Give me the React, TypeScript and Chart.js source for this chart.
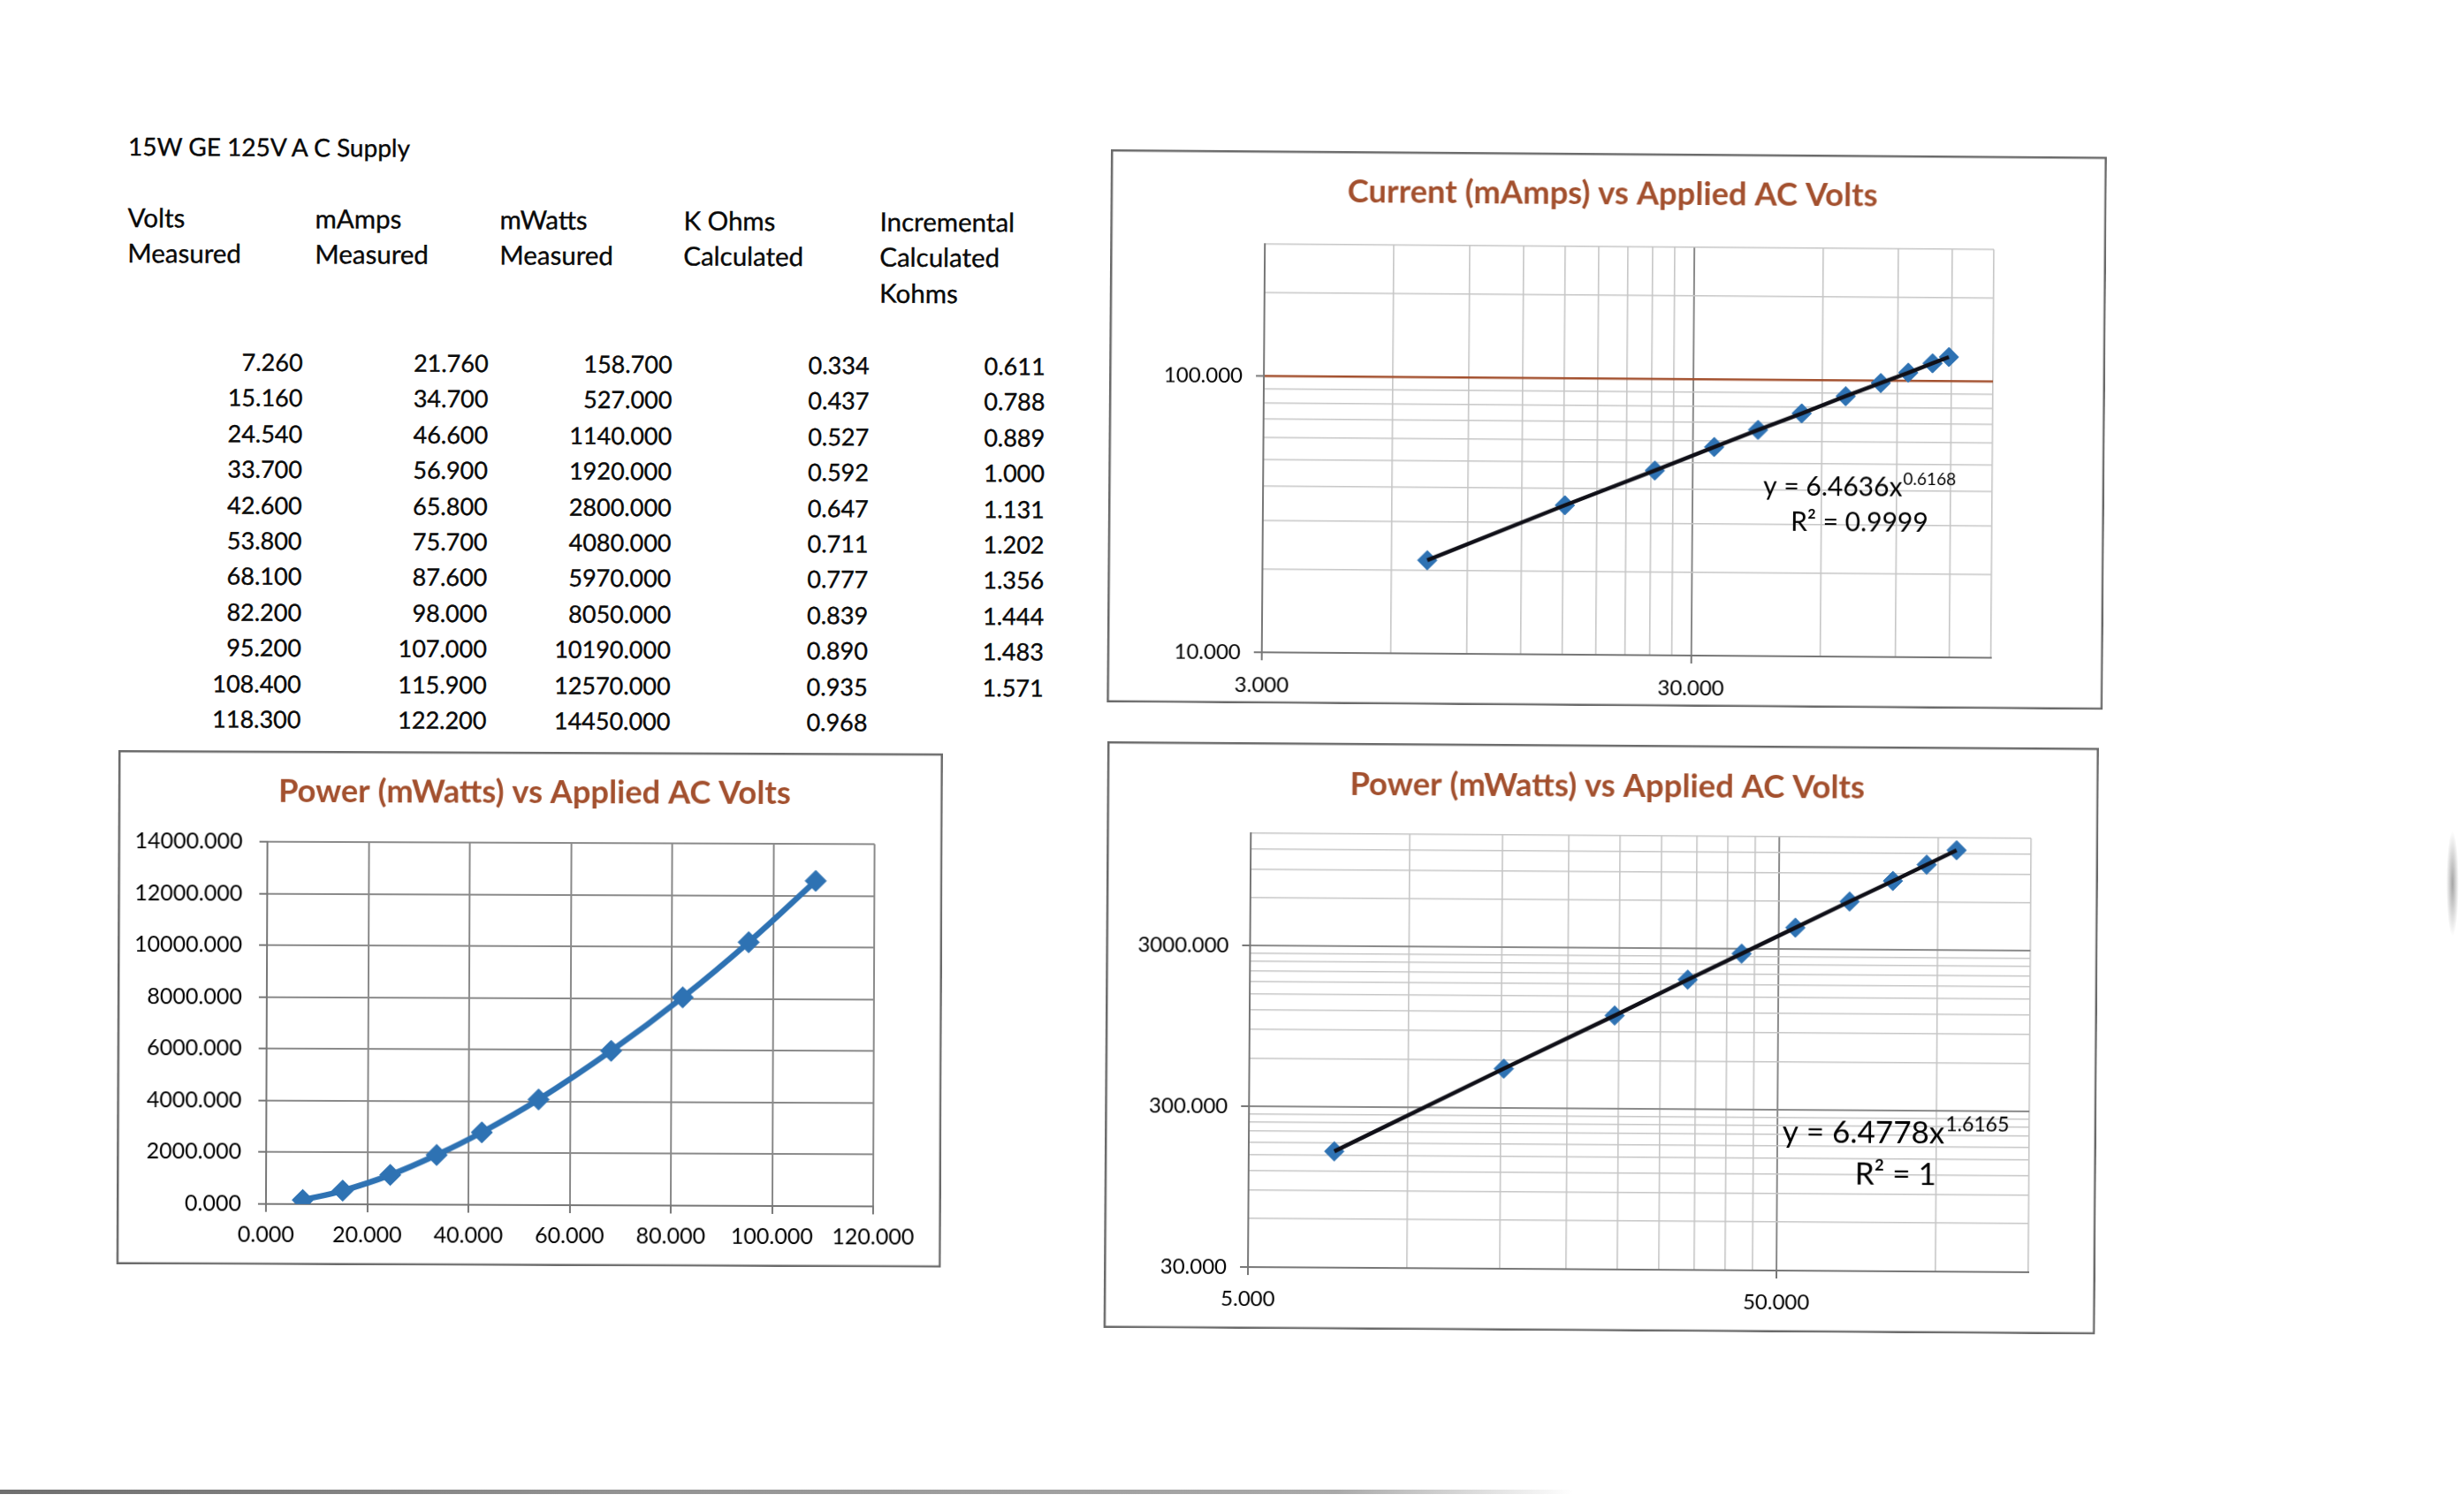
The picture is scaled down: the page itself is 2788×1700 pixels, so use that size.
import React, { useEffect, useRef } from 'react';
import { Chart, registerables } from 'chart.js';

Chart.register(...registerables);

const FONT = 'Lato, "Open Sans", "DejaVu Sans", sans-serif';

// ---------- data (read from the scanned sheet) ----------
const sheetTitle = '15W GE 125V A C Supply';
const tableHeaders = [
  ['Volts', 'Measured'],
  ['mAmps', 'Measured'],
  ['mWatts', 'Measured'],
  ['K Ohms', 'Calculated'],
  ['Incremental', 'Calculated', 'Kohms'],
];
const volts = [7.26, 15.16, 24.54, 33.7, 42.6, 53.8, 68.1, 82.2, 95.2, 108.4, 118.3];
const mAmps = [21.76, 34.7, 46.6, 56.9, 65.8, 75.7, 87.6, 98.0, 107.0, 115.9, 122.2];
const mWatts = [158.7, 527, 1140, 1920, 2800, 4080, 5970, 8050, 10190, 12570, 14450];
const kOhms = [0.334, 0.437, 0.527, 0.592, 0.647, 0.711, 0.777, 0.839, 0.89, 0.935, 0.968];
const incrementalKohms = [0.611, 0.788, 0.889, 1.0, 1.131, 1.202, 1.356, 1.444, 1.483, 1.571];

// the two power charts plot the first ten readings only
const powerVolts = volts.slice(0, 10);
const powerWatts = mWatts.slice(0, 10);

const currentTitle = 'Current (mAmps) vs Applied AC Volts';
const powerTitle = 'Power (mWatts) vs Applied AC Volts';
const currentFitText = ['y = 6.4636x', '0.6168', 'R² = 0.9999'];
const powerFitText = ['y = 6.4778x', '1.6165', 'R² = 1'];

// axis gridline / tick values
const currentXGrid = [3, 6, 9, 12, 15, 18, 21, 24, 27, 30, 60, 90, 120, 150];
const currentXMajor = [3, 30];
const currentYGrid = [10, 20, 30, 40, 50, 60, 70, 80, 90, 100, 200, 300];
const currentYMajor = [10, 100];
const powerLinX = [0, 120, 20];
const powerLinY = [0, 14000, 2000];
const powerLogXGrid = [5, 10, 15, 20, 25, 30, 35, 40, 45, 50, 100, 150];
const powerLogXMajor = [5, 50];
const powerLogYGrid = [30, 60, 90, 120, 150, 180, 210, 240, 270, 300, 600, 900, 1200, 1500, 1800, 2100, 2400, 2700, 3000, 6000, 9000, 12000, 15000];
const powerLogYMajor = [30, 300, 3000];

// ---------- styles ----------
const BLUE = '#2E72B3';
const BROWN = '#A3502E';
const MINOR = '#c6c6c6';
const MAJOR = '#8a8a8a';
const AXIS = '#777777';
const FRAME = '#6a6a6a';
const MARKER_R = 11;

type AxisSpec = {
  type: 'linear' | 'logarithmic';
  min: number;
  max: number;
  step?: number;
  grid?: number[];
  majors?: number[];
  isY: boolean;
  size: number;
  fontSize: number;
  pad: number;
  special?: (v: number) => string | null;
};

function makeAxis(p: AxisSpec) {
  const isMajor = (v: number) => !p.majors || p.majors.includes(v);
  const axis: any = {
    type: p.type,
    min: p.min,
    max: p.max,
    position: p.isY ? 'left' : 'bottom',
    afterFit: (s: any) => {
      if (p.isY) s.width = p.size;
      else s.height = p.size;
    },
    ticks: {
      autoSkip: false,
      maxRotation: 0,
      minRotation: 0,
      padding: p.pad,
      color: '#000',
      font: { family: FONT, size: p.fontSize },
      callback: (v: any) => (isMajor(Number(v)) ? Number(v).toFixed(3) : ''),
    },
    grid: {
      color: (c: any) => {
        const v = c.tick ? c.tick.value : NaN;
        const s = p.special ? p.special(v) : null;
        if (s) return s;
        return isMajor(v) ? MAJOR : MINOR;
      },
      lineWidth: (c: any) => {
        const v = c.tick ? c.tick.value : NaN;
        if (p.special && p.special(v)) return 2.5;
        return isMajor(v) ? 2 : 1.6;
      },
      tickColor: (c: any) => (c.tick && isMajor(c.tick.value) ? AXIS : 'rgba(0,0,0,0)'),
      tickLength: 9,
      tickWidth: 2,
      drawTicks: true,
    },
    border: { display: true, color: AXIS, width: 2 },
  };
  if (p.step) axis.ticks.stepSize = p.step;
  if (p.grid) {
    const g = p.grid;
    axis.afterBuildTicks = (s: any) => {
      s.ticks = g.map((v) => ({ value: v }));
    };
  }
  return axis;
}

type DecorSpec = {
  title: string;
  titleCx: number;
  titleCy: number;
  titleWidth: number;
  fit?: string[];
  fitCx?: number;
  fitY1?: number;
  fitY2?: number;
  fitSize?: number;
  supSize?: number;
};

function decorPlugin(d: DecorSpec) {
  return {
    id: 'decor',
    beforeDraw(chart: any) {
      const ctx = chart.ctx;
      ctx.save();
      ctx.fillStyle = '#ffffff';
      ctx.fillRect(0, 0, chart.width, chart.height);
      ctx.restore();
    },
    afterDraw(chart: any) {
      const ctx = chart.ctx;
      ctx.save();
      // title, sized to the width it has on the sheet
      ctx.font = `bold 100px ${FONT}`;
      const w100 = ctx.measureText(d.title).width;
      const size = (100 * d.titleWidth) / w100;
      ctx.font = `bold ${size}px ${FONT}`;
      ctx.fillStyle = BROWN;
      ctx.textAlign = 'center';
      ctx.textBaseline = 'middle';
      ctx.fillText(d.title, d.titleCx, d.titleCy);

      if (d.fit && d.fitSize && d.supSize) {
        const baseFont = `${d.fitSize}px ${FONT}`;
        const supFont = `${d.supSize}px ${FONT}`;
        ctx.fillStyle = '#000';
        ctx.font = baseFont;
        const wb = ctx.measureText(d.fit[0]).width;
        ctx.font = supFont;
        const ws = ctx.measureText(d.fit[1]).width;
        const x0 = (d.fitCx as number) - (wb + ws + 1) / 2;
        ctx.textAlign = 'left';
        ctx.font = baseFont;
        ctx.fillText(d.fit[0], x0, d.fitY1 as number);
        ctx.font = supFont;
        ctx.fillText(d.fit[1], x0 + wb + 1, (d.fitY1 as number) - d.fitSize * 0.3);
        ctx.font = baseFont;
        ctx.textAlign = 'center';
        ctx.fillText(d.fit[2], d.fitCx as number, d.fitY2 as number);
      }

      // chart frame
      ctx.strokeStyle = FRAME;
      ctx.lineWidth = 2.5;
      ctx.strokeRect(1.25, 1.25, chart.width - 2.5, chart.height - 2.5);
      ctx.restore();
    },
  };
}

const baseOptions = (w: number, t: number, r: number) => ({
  responsive: false,
  maintainAspectRatio: false,
  animation: false,
  events: [],
  layout: { padding: { left: 0, top: t, right: w - r, bottom: 0 } },
  plugins: {
    legend: { display: false },
    tooltip: { enabled: false },
    title: { display: false },
  },
});

function currentConfig(): any {
  const w = 1127, h = 626, l = 175, t = 106, r = 1000, b = 568;
  const pts = volts.map((v, i) => ({ x: v, y: mAmps[i] }));
  return {
    type: 'scatter',
    data: {
      datasets: [
        { data: pts, showLine: true, borderColor: '#101018', borderWidth: 4.5, pointRadius: 0, tension: 0, order: 0 },
        { data: pts, showLine: false, pointStyle: 'rectRot', pointRadius: MARKER_R, pointBackgroundColor: BLUE, pointBorderColor: BLUE, pointBorderWidth: 1, order: 1 },
      ],
    },
    options: {
      ...baseOptions(w, t, r),
      scales: {
        x: makeAxis({ type: 'logarithmic', min: 3, max: 150, grid: currentXGrid, majors: currentXMajor, isY: false, size: h - b, fontSize: 24, pad: 13.6 }),
        y: makeAxis({ type: 'logarithmic', min: 10, max: 300, grid: currentYGrid, majors: currentYMajor, isY: true, size: l, fontSize: 24, pad: 15, special: (v) => (v === 100 ? BROWN : null) }),
      },
    },
    plugins: [
      decorPlugin({ title: currentTitle, titleCx: 568, titleCy: 46, titleWidth: 600, fit: currentFitText, fitCx: 850, fitY1: 376, fitY2: 416, fitSize: 30, supSize: 19 }),
    ],
  };
}

function powerLinearConfig(): any {
  const w = 933, h = 582, l = 169, t = 103, r = 856, b = 513;
  const pts = powerVolts.map((v, i) => ({ x: v, y: powerWatts[i] }));
  return {
    type: 'scatter',
    data: {
      datasets: [
        { data: pts, showLine: true, borderColor: BLUE, borderWidth: 6.5, tension: 0.4, pointStyle: 'rectRot', pointRadius: 12, pointBackgroundColor: BLUE, pointBorderColor: BLUE, pointBorderWidth: 1 },
      ],
    },
    options: {
      ...baseOptions(w, t, r),
      scales: {
        x: makeAxis({ type: 'linear', min: powerLinX[0], max: powerLinX[1], step: powerLinX[2], isY: false, size: h - b, fontSize: 25, pad: 10.6 }),
        y: makeAxis({ type: 'linear', min: powerLinY[0], max: powerLinY[1], step: powerLinY[2], isY: true, size: l, fontSize: 25, pad: 19 }),
      },
    },
    plugins: [decorPlugin({ title: powerTitle, titleCx: 471, titleCy: 46, titleWidth: 580 })],
  };
}

function powerLogConfig(): any {
  const w = 1122, h = 664, l = 163, t = 103, r = 1046, b = 594;
  const pts = powerVolts.map((v, i) => ({ x: v, y: powerWatts[i] }));
  return {
    type: 'scatter',
    data: {
      datasets: [
        { data: pts, showLine: true, borderColor: '#101018', borderWidth: 4.5, pointRadius: 0, tension: 0, order: 0 },
        { data: pts, showLine: false, pointStyle: 'rectRot', pointRadius: MARKER_R, pointBackgroundColor: BLUE, pointBorderColor: BLUE, pointBorderWidth: 1, order: 1 },
      ],
    },
    options: {
      ...baseOptions(w, t, r),
      scales: {
        x: makeAxis({ type: 'logarithmic', min: 5, max: 150, grid: powerLogXGrid, majors: powerLogXMajor, isY: false, size: h - b, fontSize: 24, pad: 13.2 }),
        y: makeAxis({ type: 'logarithmic', min: 30, max: 15000, grid: powerLogYGrid, majors: powerLogYMajor, isY: true, size: l, fontSize: 24, pad: 15 }),
      },
    },
    plugins: [
      decorPlugin({ title: powerTitle, titleCx: 566, titleCy: 47, titleWidth: 583, fit: powerFitText, fitCx: 895, fitY1: 438, fitY2: 485, fitSize: 35, supSize: 23 }),
    ],
  };
}

function ChartBox(props: { left: number; top: number; width: number; height: number; rot: number; build: () => any }) {
  const ref = useRef<HTMLCanvasElement | null>(null);
  useEffect(() => {
    if (!ref.current) return;
    const chart = new Chart(ref.current, props.build());
    return () => chart.destroy();
  }, []);
  return (
    <div
      style={{
        position: 'absolute',
        left: props.left,
        top: props.top,
        width: props.width,
        height: props.height,
        transform: `rotate(${props.rot}deg)`,
        transformOrigin: '0 0',
      }}
    >
      <canvas ref={ref} width={props.width} height={props.height} style={{ display: 'block', width: props.width, height: props.height }} />
    </div>
  );
}

function DataTable() {
  const fs = 27;
  const hs = 29.5;
  const top = (capCenter: number, size: number) => capCenter - 0.529 * size;
  const colLeft = [145, 357, 566, 774, 996];
  const colRight = [344, 554, 762, 985, 1184];
  const columns = [volts, mAmps, mWatts, kOhms, incrementalKohms];
  const text: React.CSSProperties = {
    position: 'absolute',
    fontFamily: FONT,
    fontSize: fs,
    lineHeight: 1,
    color: '#0a0a0a',
    whiteSpace: 'nowrap',
    WebkitTextStroke: '0.35px #0a0a0a',
  };
  return (
    <div
      style={{
        position: 'absolute',
        left: 0,
        top: 0,
        width: 1260,
        height: 860,
        transform: 'rotate(0.31deg)',
        transformOrigin: '145px 160px',
      }}
    >
      <div style={{ ...text, left: 145, top: top(166, 28), fontSize: 28 }}>{sheetTitle}</div>
      {tableHeaders.map((lines, c) =>
        lines.map((s, j) => (
          <div key={`h${c}-${j}`} style={{ ...text, fontSize: hs, left: colLeft[c], top: top(246.3 + 40.6 * j, hs) }}>
            {s}
          </div>
        ))
      )}
      {columns.map((col, c) =>
        col.map((v, i) => (
          <div
            key={`d${c}-${i}`}
            style={{ ...text, left: colRight[c] - 300, width: 300, textAlign: 'right', top: top(409 + 40.45 * i, fs) }}
          >
            {v.toFixed(3)}
          </div>
        ))
      )}
    </div>
  );
}

export default function App() {
  return (
    <div
      style={{
        position: 'absolute',
        left: 0,
        top: 0,
        width: 2788,
        height: 1700,
        background: '#ffffff',
        overflow: 'hidden',
      }}
    >
      <DataTable />
      <ChartBox left={1257} top={169} width={1127} height={626} rot={0.43} build={currentConfig} />
      <ChartBox left={134.3} top={849} width={933} height={582} rot={0.23} build={powerLinearConfig} />
      <ChartBox left={1252.7} top={839.3} width={1122} height={664} rot={0.38} build={powerLogConfig} />
      {/* scanner edge shadow along the bottom of the sheet */}
      <div
        style={{
          position: 'absolute',
          left: 0,
          top: 1686,
          width: 1780,
          height: 5,
          background: 'linear-gradient(to right, #6f6f6f, #939393 40%, #a9a9a9 85%, rgba(255,255,255,0))',
        }}
      />
      <div
        style={{
          position: 'absolute',
          left: 2768,
          top: 940,
          width: 14,
          height: 120,
          borderRadius: 7,
          background: 'radial-gradient(ellipse at center, rgba(90,90,90,0.55), rgba(255,255,255,0) 70%)',
        }}
      />
    </div>
  );
}
